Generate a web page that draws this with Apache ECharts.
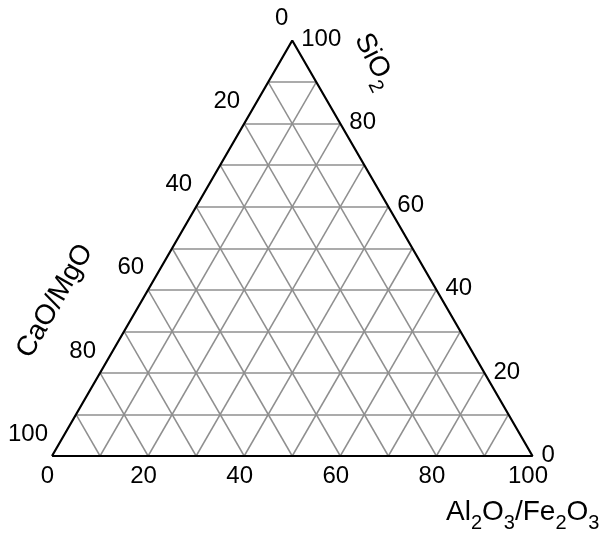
<!DOCTYPE html>
<html>
<head>
<meta charset="utf-8">
<script src="https://cdn.jsdelivr.net/npm/echarts@6/dist/echarts.min.js"></script>
<style>
  html,body{margin:0;padding:0;background:#fff;}
  #main{width:602px;height:534px;}
</style>
</head>
<body>
<div id="main"></div>
<script>
// grid every 10 %, labels every 20 %
const gridSteps = [10, 20, 30, 40, 50, 60, 70, 80, 90]
const labelValues = [0, 20, 40, 60, 80, 100]
const bottomName = 'Al2O3/Fe2O3'
const rightName = 'SiO2'
const leftName = 'CaO/MgO'

const H = Math.sqrt(3) / 2
// a = Al2O3/Fe2O3 (bottom), s = SiO2 (apex); CaO/MgO = 100 - a - s
const toXY = (a, s) => [a + s / 2, s * H]

const gridLines = []
gridSteps.forEach(t => {
  gridLines.push({ coords: [toXY(0, t), toXY(100 - t, t)] })        // SiO2 = t
  gridLines.push({ coords: [toXY(t, 0), toXY(t, 100 - t)] })        // Al2O3 = t
  gridLines.push({ coords: [toXY(100 - t, 0), toXY(0, 100 - t)] })  // CaO = t
})
const border = [toXY(0, 0), toXY(100, 0), toXY(0, 100), toXY(0, 0)]

const font = '"Liberation Sans", Arial, sans-serif'
const tickLabel = (data, align, offset) => ({
  type: 'scatter',
  symbolSize: 0,
  silent: true,
  data: data,
  itemStyle: { opacity: 1 },
  label: {
    show: true,
    position: 'inside',
    align: align,
    verticalAlign: 'middle',
    offset: offset,
    color: '#000',
    opacity: 1,
    textBorderWidth: 0,
    fontSize: 24,
    fontFamily: font,
    formatter: p => p.data[2]
  }
})

// subscripts: main text sits at the top, digits pushed to the bottom of the line
const rich = {
  m: { fontSize: 28, lineHeight: 28, verticalAlign: 'top', fontFamily: font, fill: '#000' },
  s: { fontSize: 20, lineHeight: 35, verticalAlign: 'bottom', fontFamily: font, fill: '#000' }
}
const sub = str => '{m|' + str.replace(/(\d)/g, '}{s|$1}{m|') + '}'

const chart = echarts.init(document.getElementById('main'))
chart.setOption({
  animation: false,
  grid: { left: 52, right: 69.5, top: 40.5, bottom: 78 },
  xAxis: { type: 'value', min: 0, max: 100, show: false },
  yAxis: { type: 'value', min: 0, max: 100 * H, show: false },
  series: [
    {
      type: 'lines',
      coordinateSystem: 'cartesian2d',
      silent: true,
      data: gridLines,
      lineStyle: { color: '#8f8f8f', width: 1.5, opacity: 1 }
    },
    {
      type: 'line',
      data: border,
      symbol: 'none',
      silent: true,
      lineStyle: { color: '#000', width: 2.2 }
    },
    tickLabel(labelValues.map(v => toXY(v, 0).concat(v)), 'center', [-4.5, 20.5]),
    tickLabel(labelValues.map(v => toXY(100 - v, v).concat(v)), 'left', [9, -1]),
    tickLabel(labelValues.map(v => toXY(0, 100 - v).concat(v)), 'right', [-4, -22])
  ],
  graphic: [
    {
      type: 'text', x: 446, y: 498,
      style: { text: sub(bottomName), rich: rich, align: 'left', verticalAlign: 'top' }
    },
    {
      type: 'text', x: 371.5, y: 62.5, rotation: -63 * Math.PI / 180,
      style: { text: sub(rightName), rich: rich, align: 'center', verticalAlign: 'middle' }
    },
    {
      type: 'text', x: 55, y: 301, rotation: 60 * Math.PI / 180,
      style: { text: leftName, font: '28px ' + font, fill: '#000', align: 'center', verticalAlign: 'middle' }
    }
  ]
})
</script>
</body>
</html>
